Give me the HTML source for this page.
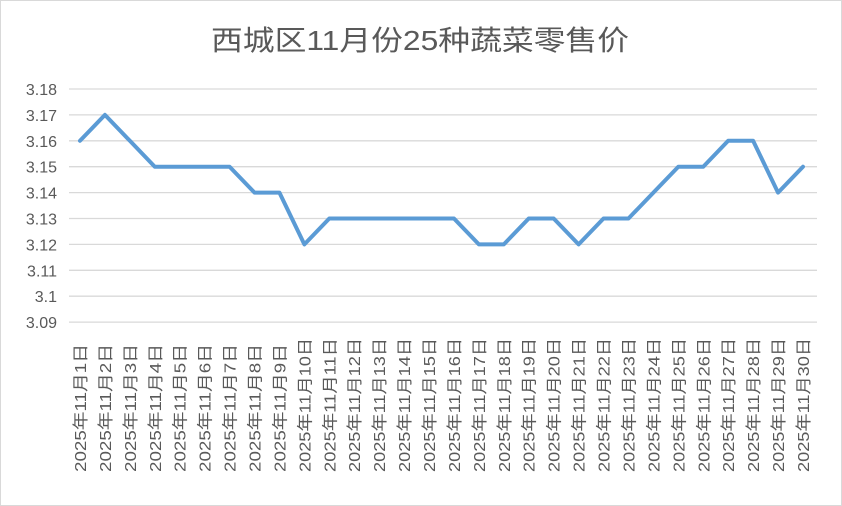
<!DOCTYPE html>
<html><head><meta charset="utf-8"><style>
body{margin:0;background:#fff}
svg{display:block}
text{font-family:"Liberation Sans","Noto Sans CJK SC",sans-serif;fill:#595959}
</style></head><body>
<svg width="842" height="506" viewBox="0 0 842 506">
<rect x="0.5" y="0.5" width="841" height="505" fill="#fff" stroke="#d9d9d9"/>
<text x="420" y="50" font-size="28" text-anchor="middle" textLength="418" lengthAdjust="spacingAndGlyphs">西城区11月份25种蔬菜零售价</text>
<g id="grid" stroke="#d9d9d9" stroke-width="1.3"></g>
<g id="yl"></g>
<g id="xl"></g>
<polyline id="ln" fill="none" stroke="#5b9bd5" stroke-width="4" stroke-linejoin="round" stroke-linecap="round"/>
</svg>
<script>
var ns="http://www.w3.org/2000/svg";
function y(v){return 89+(3.18-v)/0.01*25.9;}
var g=document.getElementById('grid'),yl=document.getElementById('yl'),xl=document.getElementById('xl');
var labs=["3.18","3.17","3.16","3.15","3.14","3.13","3.12","3.11","3.1","3.09"];
labs.forEach(function(l,i){var yy=89+i*25.9;
var ln=document.createElementNS(ns,'line');ln.setAttribute('x1',69);ln.setAttribute('x2',817);ln.setAttribute('y1',yy);ln.setAttribute('y2',yy);g.appendChild(ln);
var t=document.createElementNS(ns,'text');t.setAttribute('x',57);t.setAttribute('y',yy+6);t.setAttribute('font-size',16);t.setAttribute('text-anchor','end');t.textContent=l;yl.appendChild(t);});
var d=[3.16,3.17,3.16,3.15,3.15,3.15,3.15,3.14,3.14,3.12,3.13,3.13,3.13,3.13,3.13,3.13,3.12,3.12,3.13,3.13,3.12,3.13,3.13,3.14,3.15,3.15,3.16,3.16,3.14,3.15];
var pts=[];
d.forEach(function(v,i){var x=80+i*24.93;pts.push(x+','+y(v));
var t=document.createElementNS(ns,'text');t.setAttribute('transform','translate('+(x+6)+',472) rotate(-90)');t.setAttribute('font-size',16);
t.setAttribute('textLength',i<9?128:134);t.setAttribute('lengthAdjust','spacingAndGlyphs');
t.textContent='2025年11月'+(i+1)+'日';xl.appendChild(t);});
document.getElementById('ln').setAttribute('points',pts.join(' '));
</script>
</body></html>
